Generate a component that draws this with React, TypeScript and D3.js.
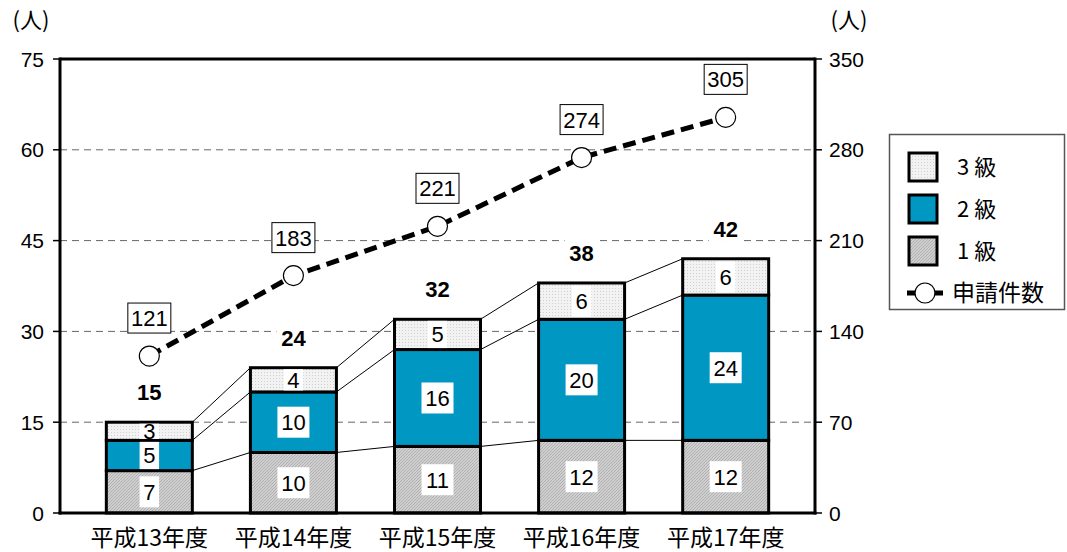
import React from "react";
import * as d3 from "d3";

const categories = ["平成13年度", "平成14年度", "平成15年度", "平成16年度", "平成17年度"];
const grade1 = [7, 10, 11, 12, 12];
const grade2 = [5, 10, 16, 20, 24];
const grade3 = [3, 4, 5, 6, 6];
const applications = [121, 183, 221, 274, 305];
const leftTicks = [0, 15, 30, 45, 60, 75];
const rightTicks = [0, 70, 140, 210, 280, 350];
const seriesNames = ["1 級", "2 級", "3 級"];
const lineName = "申請件数";

const W = 1067, H = 552;
const L = 60, R = 815, T = 59, B = 513;
const FONT = "'Liberation Sans', Arial, 'Noto Sans CJK JP', sans-serif";
const JFONT = "'Noto Sans CJK JP', 'Liberation Sans', sans-serif";
const BLUE = "#0098c2";

export default function App() {
  const x = d3.scalePoint<string>().domain(categories).range([L, R]).padding(0.62);
  const yL = d3.scaleLinear().domain([0, 75]).range([B, T]);
  const yR = d3.scaleLinear().domain([0, 350]).range([B, T]);
  const bw = 86;
  const data = categories.map((c, i) => ({ c, vals: [grade1[i], grade2[i], grade3[i]] }));
  const stack = d3.stack<any>().keys(["0", "1", "2"]).value((d: any, k: string) => d.vals[+k])(data);
  const fills = ["url(#pat1)", BLUE, "url(#pat3)"];
  const line = d3.line<number>().x((_, i) => x(categories[i])!).y((d) => yR(d));

  return (
    <svg width={W} height={H} style={{ position: "absolute", left: 0, top: 0, background: "#fff" }}>
      <defs>
        <pattern id="pat1" width="3" height="3" patternUnits="userSpaceOnUse">
          <rect width="3" height="3" fill="#cfcfcf" />
          <path d="M0,3 L3,0" stroke="#a8a8a8" strokeWidth="0.8" />
        </pattern>
        <pattern id="pat3" width="3" height="3" patternUnits="userSpaceOnUse">
          <rect width="3" height="3" fill="#f2f2f2" />
          <rect width="1" height="1" fill="#cfcfcf" />
        </pattern>
      </defs>
      {leftTicks.filter((t) => t > 0 && t < 75).map((t) => (
        <line key={t} x1={L} x2={R} y1={yL(t)} y2={yL(t)} stroke="#666" strokeWidth={1} strokeDasharray="7,5" />
      ))}
      {stack.map((s, k) =>
        s.slice(0, -1).map((d, i) => (
          <line key={`c${k}-${i}`} x1={x(categories[i])! + bw / 2} y1={yL(d[1])}
            x2={x(categories[i + 1])! - bw / 2} y2={yL(s[i + 1][1])} stroke="#000" strokeWidth={1} />
        ))
      )}
      {stack.map((s, k) =>
        s.map((d, i) => (
          <rect key={`b${k}-${i}`} x={x(categories[i])! - bw / 2} y={yL(d[1])} width={bw}
            height={yL(d[0]) - yL(d[1])} fill={fills[k]} stroke="#000" strokeWidth={3} />
        ))
      )}
      {stack.map((s, k) =>
        s.map((d, i) => {
          const v = d[1] - d[0];
          const h = yL(d[0]) - yL(d[1]);
          const bh = Math.min(31, h - 3);
          const cy = (yL(d[0]) + yL(d[1])) / 2;
          const tw = String(v).length * 12.5 + 7;
          const cx = x(categories[i])!;
          return (
            <g key={`l${k}-${i}`}>
              <rect x={cx - tw / 2} y={cy - bh / 2} width={tw} height={bh} fill="#fff" />
              <text x={cx} y={cy} dy="0.36em" textAnchor="middle" fontFamily={FONT} fontSize={22}>{v}</text>
            </g>
          );
        })
      )}
      {data.map((d, i) => {
        const tot = d3.sum(d.vals);
        const cy = yL(tot) - 30;
        const cx = x(d.c)!;
        return (
          <g key={`t${i}`}>
            <rect x={cx - 17} y={cy - 13} width={34} height={26} fill="#fff" />
            <text x={cx} y={cy} dy="0.36em" textAnchor="middle" fontFamily={FONT} fontSize={22} fontWeight="bold">{tot}</text>
          </g>
        );
      })}
      <path d={line(applications)!} fill="none" stroke="#000" strokeWidth={5} strokeDasharray="13,7" />
      {applications.map((v, i) => {
        const cx = x(categories[i])!;
        const cy = yR(v);
        return (
          <g key={`p${i}`}>
            <circle cx={cx} cy={cy} r={10} fill="#fff" stroke="#000" strokeWidth={1.2} />
            <rect x={cx - 21.5} y={cy - 38 - 15} width={43} height={30} fill="#fff" stroke="#000" strokeWidth={1} />
            <text x={cx} y={cy - 38} dy="0.36em" textAnchor="middle" fontFamily={FONT} fontSize={22}>{v}</text>
          </g>
        );
      })}
      <line x1={L} x2={R} y1={T} y2={T} stroke="#000" strokeWidth={3} />
      <line x1={L} x2={L} y1={T - 1.5} y2={B + 1.5} stroke="#000" strokeWidth={3} />
      <line x1={R} x2={R} y1={T - 1.5} y2={B + 1.5} stroke="#000" strokeWidth={3} />
      <line x1={L - 1.5} x2={R + 1.5} y1={B} y2={B} stroke="#000" strokeWidth={3} />
      {leftTicks.map((t) => (
        <g key={`lt${t}`}>
          <line x1={L - 7} x2={L} y1={yL(t)} y2={yL(t)} stroke="#000" strokeWidth={1.5} />
          <text x={L - 16} y={yL(t)} dy="0.36em" textAnchor="end" fontFamily={FONT} fontSize={21}>{t}</text>
        </g>
      ))}
      {rightTicks.map((t) => (
        <g key={`rt${t}`}>
          <line x1={R} x2={R + 7} y1={yR(t)} y2={yR(t)} stroke="#000" strokeWidth={1.5} />
          <text x={R + 14} y={yR(t)} dy="0.36em" textAnchor="start" fontFamily={FONT} fontSize={21}>{t}</text>
        </g>
      ))}
      {categories.map((c) => (
        <text key={c} x={x(c)} y={538} dy="0.36em" textAnchor="middle" fontFamily={JFONT} fontSize={23}>{c}</text>
      ))}
      <text x={31} y={20} dy="0.36em" textAnchor="middle" fontFamily={JFONT} fontSize={22}>(人)</text>
      <text x={849} y={20} dy="0.36em" textAnchor="middle" fontFamily={JFONT} fontSize={22}>(人)</text>
      <rect x={889.5} y={134.5} width={175} height={175} fill="#fff" stroke="#555" strokeWidth={1.5} />
      {[2, 1, 0].map((k, j) => {
        const cy = 167 + j * 42;
        return (
          <g key={`lg${k}`}>
            <rect x={909} y={cy - 14} width={28} height={28} fill={fills[k]} stroke="#000" strokeWidth={3} />
            <text x={957} y={cy} dy="0.36em" fontFamily={JFONT} fontSize={22}>{seriesNames[k]}</text>
          </g>
        );
      })}
      <line x1={907} x2={943} y1={293} y2={293} stroke="#000" strokeWidth={5} />
      <circle cx={925} cy={293} r={10} fill="#fff" stroke="#000" strokeWidth={1.2} />
      <text x={952} y={293} dy="0.36em" fontFamily={JFONT} fontSize={23}>{lineName}</text>
    </svg>
  );
}
